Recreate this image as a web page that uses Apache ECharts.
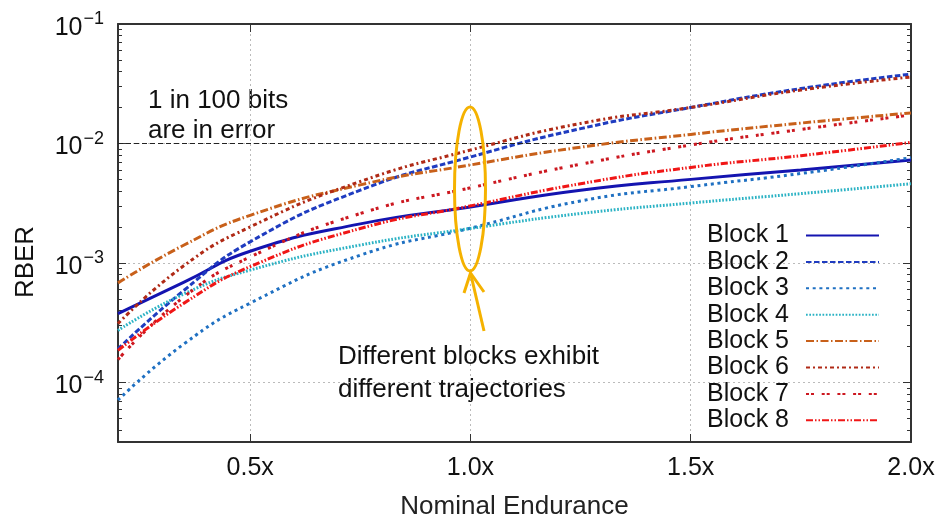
<!DOCTYPE html>
<html>
<head>
<meta charset="utf-8">
<script src="https://cdn.jsdelivr.net/npm/echarts@6/dist/echarts.min.js"></script>
<style>
  html, body { margin: 0; padding: 0; background: #fff; }
  #chart { width: 938px; height: 518px; }
</style>
</head>
<body>
<div id="chart"></div>
<script>
// nominal endurance (x) where RBER was read
const endurance = [0.2, 0.35, 0.5, 0.75, 1.0, 1.25, 1.5, 1.75, 2.0];

const block1 = [3.76e-4, 6.9e-4, 1.25e-3, 2.12e-3, 2.94e-3, 4.06e-3, 5.0e-3, 6.0e-3, 7.25e-3];
const block2 = [1.9e-4, 5.9e-4, 1.5e-3, 4.06e-3, 7.7e-3, 1.33e-2, 2.0e-2, 2.88e-2, 3.8e-2];
const block3 = [7.1e-5, 2.1e-4, 4.6e-4, 1.16e-3, 1.95e-3, 3.3e-3, 4.35e-3, 5.6e-3, 7.6e-3];
const block4 = [2.72e-4, 5.5e-4, 8.7e-4, 1.41e-3, 1.94e-3, 2.59e-3, 3.17e-3, 3.8e-3, 4.6e-3];
const block5 = [6.8e-4, 1.41e-3, 2.5e-3, 4.5e-3, 6.6e-3, 9.3e-3, 1.19e-2, 1.48e-2, 1.8e-2];
const block6 = [3.1e-4, 9.5e-4, 2.0e-3, 4.8e-3, 8.8e-3, 1.47e-2, 2.0e-2, 2.8e-2, 3.6e-2];
const block7 = [1.55e-4, 5.2e-4, 1.12e-3, 2.59e-3, 4.25e-3, 6.7e-3, 9.7e-3, 1.31e-2, 1.73e-2];
const block8 = [1.85e-4, 4.6e-4, 9.3e-4, 1.94e-3, 3.0e-3, 4.6e-3, 6.3e-3, 7.9e-3, 1.02e-2];

const blockNames = ['Block 1', 'Block 2', 'Block 3', 'Block 4', 'Block 5', 'Block 6', 'Block 7', 'Block 8'];
const xTicks = [0.5, 1.0, 1.5, 2.0];
const yDecades = [1e-4, 1e-3, 1e-2, 1e-1];
const threshold = 1e-2;

const FONT = 'Liberation Sans, Arial, sans-serif';

// gnuplot-like line looks
const looks = [
  { color: '#1414b0', type: 'solid' },
  { color: '#1f3cc0', type: [5.5, 2.5] },
  { color: '#1f70c2', type: [3, 3.7] },
  { color: '#2ab2c4', type: [1.7, 1.6] },
  { color: '#c8601a', type: [8, 2.5, 1.5, 2.5] },
  { color: '#b02a16', type: [4, 3, 2, 3] },
  { color: '#cc1820', type: [3, 2, 3, 7.7] },
  { color: '#f01616', type: [7, 2, 1.5, 2, 1.5, 2] }
];

// log minor tick positions (2..9 per decade)
const yMinors = [];
for (let e = -5; e <= -2; e++) {
  for (let m = 2; m <= 9; m++) {
    const v = m * Math.pow(10, e);
    if (v > 3.2e-5 && v < 0.1) yMinors.push(v);
  }
}

const yMin = Math.pow(10, -4.5);
const yMax = 0.1;

const chart = echarts.init(document.getElementById('chart'));

const allBlocks = [block1, block2, block3, block4, block5, block6, block7, block8];

const series = allBlocks.map((vals, i) => ({
  name: blockNames[i],
  type: 'line',
  smooth: 0.5,
  symbol: 'none',
  color: looks[i].color,
  lineStyle: { width: 3, type: looks[i].type, color: looks[i].color, cap: 'butt' },
  data: vals.map((v, k) => [endurance[k], v]),
  z: 3 + i
}));

series[0].markLine = {
  silent: true,
  symbol: 'none',
  label: { show: false },
  lineStyle: { color: '#222', width: 1, type: [5, 3] },
  data: [{ yAxis: threshold }]
};

const axisColor = '#333';

chart.setOption({
  animation: false,
  textStyle: { fontFamily: FONT },
  grid: { left: 118, right: 27, top: 24, bottom: 76, outerBoundsMode: 'none' },
  legend: {
    data: blockNames,
    orient: 'vertical',
    right: 58,
    top: 223,
    align: 'right',
    itemWidth: 73,
    itemHeight: 10,
    itemGap: 1.4,
    padding: 0,
    itemStyle: { opacity: 0 },
    textStyle: { fontSize: 25, fontFamily: FONT, color: '#111', padding: [0, 12, 0, 0] }
  },
  xAxis: [
    {
      type: 'value',
      min: 0.2,
      max: 2.0,
      position: 'bottom',
      name: 'Nominal Endurance',
      nameLocation: 'middle',
      nameGap: 52,
      nameTextStyle: { fontSize: 26, color: '#222', fontFamily: FONT },
      axisLine: { show: true, lineStyle: { color: axisColor, width: 2 } },
      axisTick: { show: true, inside: true, length: 8, customValues: xTicks, lineStyle: { color: axisColor } },
      axisLabel: {
        customValues: xTicks,
        margin: 14,
        fontSize: 25,
        color: '#111',
        fontFamily: FONT,
        formatter: v => v.toFixed(1) + 'x'
      },
      splitLine: { show: true, lineStyle: { color: '#bbb', type: [2, 3], width: 1 } }
    },
    {
      type: 'value',
      min: 0.2,
      max: 2.0,
      position: 'top',
      axisLine: { show: true, lineStyle: { color: axisColor, width: 2 } },
      axisTick: { show: true, inside: true, length: 8, customValues: xTicks, lineStyle: { color: axisColor } },
      axisLabel: { show: false },
      splitLine: { show: false }
    }
  ],
  yAxis: [
    {
      type: 'log',
      logBase: 10,
      min: yMin,
      max: yMax,
      position: 'left',
      axisLine: { show: true, lineStyle: { color: axisColor, width: 2 } },
      axisTick: { show: true, inside: true, length: 8, customValues: yDecades, lineStyle: { color: axisColor } },
      axisLabel: {
        customValues: yDecades,
        margin: 14,
        color: '#111',
        formatter: v => {
          const e = Math.round(Math.log10(v));
          return '{b|10}{s|' + (e < 0 ? '\u2212' : '') + Math.abs(e) + '}';
        },
        rich: {
          b: { fontSize: 25, fontFamily: FONT, color: '#111', padding: [8, 0, 0, 0] },
          s: { fontSize: 18, fontFamily: FONT, color: '#111', padding: [0, 0, 9, 1] }
        }
      },
      splitLine: { show: true, lineStyle: { color: '#bbb', type: [2, 3], width: 1 } }
    },
    {
      type: 'log',
      logBase: 10,
      min: yMin,
      max: yMax,
      position: 'left',
      axisLine: { show: false },
      axisTick: { show: true, inside: true, length: 4, customValues: yMinors, lineStyle: { color: axisColor } },
      axisLabel: { show: false },
      splitLine: { show: false }
    },
    {
      type: 'log',
      logBase: 10,
      min: yMin,
      max: yMax,
      position: 'right',
      axisLine: { show: true, lineStyle: { color: axisColor, width: 2 } },
      axisTick: { show: true, inside: true, length: 8, customValues: yDecades, lineStyle: { color: axisColor } },
      axisLabel: { show: false },
      splitLine: { show: false }
    },
    {
      type: 'log',
      logBase: 10,
      min: yMin,
      max: yMax,
      position: 'right',
      axisLine: { show: false },
      axisTick: { show: true, inside: true, length: 4, customValues: yMinors, lineStyle: { color: axisColor } },
      axisLabel: { show: false },
      splitLine: { show: false }
    }
  ],
  graphic: [
    {
      type: 'text',
      x: 26, y: 262,
      rotation: Math.PI / 2,
      style: { text: 'RBER', fontSize: 26, fontFamily: FONT, fill: '#111', align: 'center', verticalAlign: 'middle' }
    },
    {
      type: 'text', x: 148, y: 101,
      style: { text: '1 in 100 bits', fontSize: 26, fontFamily: FONT, fill: '#111', align: 'left', verticalAlign: 'middle' }
    },
    {
      type: 'text', x: 148, y: 131,
      style: { text: 'are in error', fontSize: 26, fontFamily: FONT, fill: '#111', align: 'left', verticalAlign: 'middle' }
    },
    {
      type: 'text', x: 338, y: 357,
      style: { text: 'Different blocks exhibit', fontSize: 26, fontFamily: FONT, fill: '#111', align: 'left', verticalAlign: 'middle' }
    },
    {
      type: 'text', x: 338, y: 390,
      style: { text: 'different trajectories', fontSize: 26, fontFamily: FONT, fill: '#111', align: 'left', verticalAlign: 'middle' }
    },
    {
      type: 'ellipse',
      shape: { cx: 470, cy: 189, rx: 15.5, ry: 82 },
      style: { fill: 'none', stroke: '#f5b200', lineWidth: 3 },
      z: 100
    },
    {
      type: 'polyline',
      shape: { points: [[484, 331], [470.5, 273]] },
      style: { fill: 'none', stroke: '#f5b200', lineWidth: 3 },
      z: 100
    },
    {
      type: 'polyline',
      shape: { points: [[464, 293], [470.5, 273], [484, 292]] },
      style: { fill: 'none', stroke: '#f5b200', lineWidth: 3 },
      z: 100
    }
  ],
  series: series
});
</script>
</body>
</html>
